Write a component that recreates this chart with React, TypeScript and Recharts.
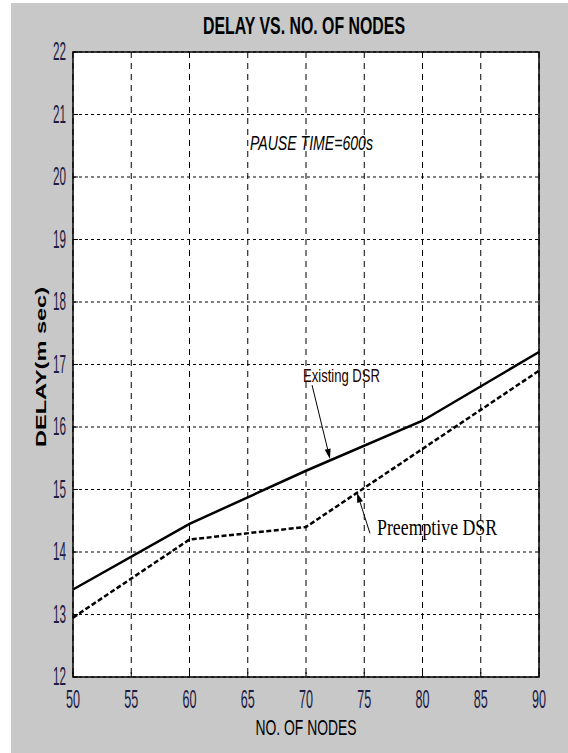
import React from "react";
import {
  LineChart,
  Line,
  XAxis,
  YAxis,
  CartesianGrid,
  ReferenceArea,
  ReferenceLine,
  ReferenceDot,
} from "recharts";

const nodes = [50, 60, 70, 80, 90];
const existingDsr = [13.4, 14.45, 15.3, 16.1, 17.2];
const preemptiveDsr = [12.95, 14.2, 14.4, 15.65, 16.9];
const xTicks = [50, 55, 60, 65, 70, 75, 80, 85, 90];
const yTicks = [12, 13, 14, 15, 16, 17, 18, 19, 20, 21, 22];

const data = nodes.map((n, i) => ({
  nodes: n,
  existing: existingDsr[i],
  preemptive: preemptiveDsr[i],
}));

const sans = "Liberation Sans, Arial, sans-serif";
const tickColor = "#1c1c44";
const inTick = -5; // matlab style ticks pointing into the plot

const XTick = (props: any) => {
  const { x, y, payload } = props;
  // y here is plot bottom + inTick
  return (
    <text
      x={x}
      y={y - inTick + 31}
      textAnchor="middle"
      fontSize={25}
      fontFamily={sans}
      fill={tickColor}
      textLength={14}
      lengthAdjust="spacingAndGlyphs"
    >
      {payload.value}
    </text>
  );
};

const YTick = (props: any) => {
  const { x, y, payload } = props;
  return (
    <text
      x={x + inTick - 7}
      y={y + 8}
      textAnchor="end"
      fontSize={25}
      fontFamily={sans}
      fill={tickColor}
      textLength={13}
      lengthAdjust="spacingAndGlyphs"
    >
      {payload.value}
    </text>
  );
};

// line with a filled arrow head at (x2, y2)
const arrowShape = (props: any) => {
  const { x1, y1, x2, y2 } = props;
  const ang = Math.atan2(y2 - y1, x2 - x1);
  const len = 10;
  const half = 3;
  const bx = x2 - len * Math.cos(ang);
  const by = y2 - len * Math.sin(ang);
  const pts = [
    `${x2},${y2}`,
    `${bx + half * Math.sin(ang)},${by - half * Math.cos(ang)}`,
    `${bx - half * Math.sin(ang)},${by + half * Math.cos(ang)}`,
  ].join(" ");
  return (
    <g>
      <line x1={x1} y1={y1} x2={bx} y2={by} stroke="#000" strokeWidth={1} />
      <polygon points={pts} fill="#000" />
    </g>
  );
};

const textShape =
  (label: string, opts: { size: number; width: number; family: string; italic?: boolean; color?: string }) =>
  (props: any) => (
    <text
      x={props.cx}
      y={props.cy}
      fontSize={opts.size}
      fontFamily={opts.family}
      fontStyle={opts.italic ? "italic" : "normal"}
      fill={opts.color || "#000"}
      textLength={opts.width}
      lengthAdjust="spacingAndGlyphs"
    >
      {label}
    </text>
  );

const App: React.FC = () => {
  return (
    <div
      style={{
        position: "absolute",
        left: 0,
        top: 0,
        width: 568,
        height: 753,
        background: "#fff",
        overflow: "hidden",
      }}
    >
      <div
        style={{
          position: "absolute",
          left: 11,
          top: 3,
          width: 557,
          height: 750,
          background: "#c8c8c8",
        }}
      />
      <div style={{ position: "absolute", left: 0, top: 0 }}>
        <LineChart
          width={568}
          height={753}
          data={data}
          margin={{ top: 52, right: 29, left: 13, bottom: 36 }}
        >
          <CartesianGrid
            horizontal={false}
            stroke="#000"
            strokeDasharray="6 5"
            fill="#fff"
          />
          <CartesianGrid vertical={false} stroke="#000" strokeDasharray="3 3" />
          <XAxis
            dataKey="nodes"
            type="number"
            domain={[50, 90]}
            ticks={xTicks}
            height={40}
            axisLine={false}
            tickLine={{ stroke: "#000" }}
            tickSize={inTick}
            tickMargin={0}
            tick={<XTick />}
            interval={0}
          />
          <XAxis
            xAxisId="top"
            orientation="top"
            type="number"
            domain={[50, 90]}
            ticks={xTicks}
            height={0}
            axisLine={false}
            tickLine={{ stroke: "#000" }}
            tickSize={inTick}
            tick={false}
            interval={0}
          />
          <YAxis
            type="number"
            domain={[12, 22]}
            ticks={yTicks}
            width={60}
            axisLine={false}
            tickLine={{ stroke: "#000" }}
            tickSize={inTick}
            tickMargin={0}
            tick={<YTick />}
            interval={0}
          />
          <YAxis
            yAxisId="right"
            orientation="right"
            type="number"
            domain={[12, 22]}
            ticks={yTicks}
            width={0}
            axisLine={false}
            tickLine={{ stroke: "#000" }}
            tickSize={inTick}
            tick={false}
            interval={0}
          />
          <ReferenceArea
            x1={50}
            x2={90}
            y1={12}
            y2={22}
            fill="none"
            fillOpacity={0}
            stroke="#000"
            strokeWidth={1.5}
          />
          <Line
            type="linear"
            dataKey="existing"
            stroke="#000"
            strokeWidth={2.5}
            dot={false}
            isAnimationActive={false}
          />
          <Line
            type="linear"
            dataKey="preemptive"
            stroke="#000"
            strokeWidth={2.5}
            strokeDasharray="5 2.5"
            dot={false}
            isAnimationActive={false}
          />
          <ReferenceLine
            segment={[
              { x: 70.52, y: 16.67 },
              { x: 72.06, y: 15.49 },
            ]}
            shape={arrowShape}
          />
          <ReferenceLine
            segment={[
              { x: 75.49, y: 14.3 },
              { x: 74.38, y: 14.95 },
            ]}
            shape={arrowShape}
          />
          <ReferenceDot
            x={69.74}
            y={16.72}
            r={1}
            shape={textShape("Existing DSR", { size: 18, width: 77, family: sans, color: "#200" })}
          />
          <ReferenceDot
            x={76.1}
            y={14.27}
            r={1}
            shape={textShape("Preemptive DSR", {
              size: 24,
              width: 120,
              family: "Liberation Serif, Times New Roman, serif",
            })}
          />
          <ReferenceDot
            x={65.19}
            y={20.43}
            r={1}
            shape={textShape("PAUSE TIME=600s", { size: 21, width: 123, family: sans, italic: true })}
          />
        </LineChart>
      </div>
      <svg
        width={568}
        height={753}
        style={{ position: "absolute", left: 0, top: 0, pointerEvents: "none" }}
      >
        <text
          x={304}
          y={34}
          textAnchor="middle"
          fontSize={24}
          fontWeight="bold"
          fontFamily={sans}
          fill="#000"
          textLength={202}
          lengthAdjust="spacingAndGlyphs"
        >
          DELAY VS. NO. OF NODES
        </text>
        <text
          x={306}
          y={735}
          textAnchor="middle"
          fontSize={22}
          fontFamily={sans}
          fill="#000"
          textLength={101}
          lengthAdjust="spacingAndGlyphs"
        >
          NO. OF NODES
        </text>
        <text
          x={46}
          y={367}
          textAnchor="middle"
          fontSize={15}
          fontWeight="bold"
          fontFamily={sans}
          fill="#000"
          transform="rotate(-90 46 367)"
          textLength={160}
          lengthAdjust="spacingAndGlyphs"
        >
          DELAY(m sec)
        </text>
      </svg>
    </div>
  );
};

export default App;
